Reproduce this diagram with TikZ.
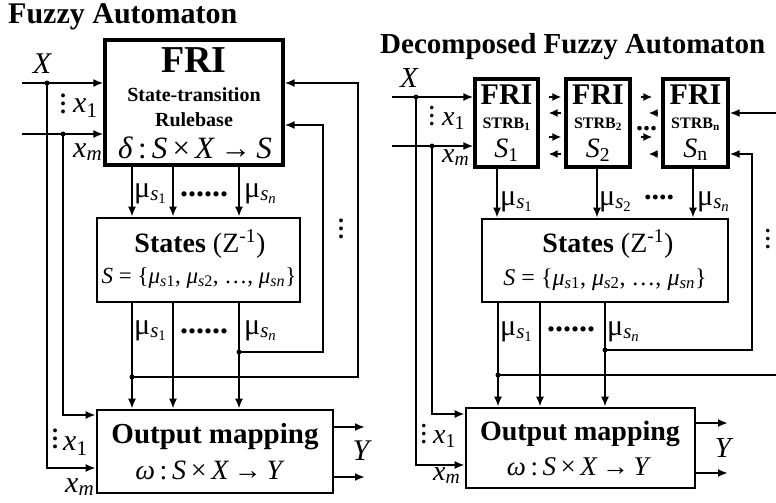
\documentclass[tikz,border=0pt]{standalone}
\usepackage{fontspec}
\setmainfont{Liberation Serif}
\usetikzlibrary{arrows.meta,positioning}

\newcommand{\fs}[1]{\fontsize{#1}{#1}\selectfont}
\newcommand{\mus}[1]{μ\textsubscript{\textit{s}\textsubscript{#1}}}
\newcommand{\mui}[1]{\textit{μ}\textsubscript{\textit{s}#1}}
\newcommand{\vdts}{\vbox{\baselineskip=8pt\lineskiplimit=-20pt\hbox{.}\hbox{.}\hbox{.}}}
\newcommand{\xin}[1]{\textit{x}\textsubscript{#1}}

\begin{document}
\begin{tikzpicture}[x=1pt, y=-1pt,
    fribox/.style={draw, line width=3.2pt, inner sep=0pt},
    box/.style={draw, line width=2.6pt, inner sep=0pt},
    arrow/.style={-{Latex[length=10pt,width=8pt]}, line width=2pt},
    sarrow/.style={-{Latex[length=9pt,width=8pt]}, line width=2pt},
    wire/.style={line width=2pt},
    txt/.style={inner sep=0pt, anchor=base},
    lbl/.style={inner sep=0pt, anchor=base west}
]
\useasboundingbox (0,0) rectangle (776,503);

% left automaton
\node[lbl, font=\fs{30}\bfseries] (ttl1) at (8,24) {Fuzzy Automaton};
\node[fribox, minimum width=178pt, minimum height=125pt] (fri) at (194,102.5) {};
\node[box, minimum width=203pt, minimum height=84pt] (st) at (198.5,260) {};
\node[box, minimum width=236pt, minimum height=83pt] (out) at (215,451.5) {};

\node[txt, font=\fs{38}\bfseries] (fria) at (194,72) {FRI};
\node[txt, font=\fs{20}\bfseries] (frib) at (194,101) {State-transition};
\node[txt, font=\fs{20}\bfseries] (fric) at (194,126) {Rulebase};
\node[txt, font=\fs{31}] (frid) at (195,158) {\textit{δ}\,:\,\textit{S}\,×\,\textit{X}\,→\,\textit{S}};
\node[txt, font=\fs{28}] (sta) at (200,252) {\textbf{States} (Z\textsuperscript{-1})};
\node[txt, font=\fs{23}] (stb) at (199,283) {\textit{S} = \{\mui{1}, \mui{2}, …, \mui{\textit{n}}\}};
\node[txt, font=\fs{29}\bfseries] (outa) at (215,443) {Output mapping};
\node[txt, font=\fs{28}] (outb) at (210,479) {\textit{ω}\,:\,\textit{S}\,×\,\textit{X}\,→\,\textit{Y}};

\node[txt, font=\fs{30}\itshape] (lx) at (42,74) {X};
\node[lbl, font=\fs{24}\bfseries] (ld1) at (60,113) {\vdts};
\node[lbl, font=\fs{30}] (lx1) at (73,112) {\xin{1}};
\node[lbl, font=\fs{30}] (lxm) at (73,157) {\xin{\textit{m}}};
\node[lbl, font=\fs{24}\bfseries] (ld2) at (52,448) {\vdts};
\node[lbl, font=\fs{30}] (lx1b) at (63,450) {\xin{1}};
\node[lbl, font=\fs{30}] (lxmb) at (65,492) {\xin{\textit{m}}};
\node[txt, font=\fs{30}\itshape] (ly) at (361,460) {Y};
\node[lbl, font=\fs{24}\bfseries] (ld3) at (338,238) {\vdts};

\node[lbl, font=\fs{30}] (m1) at (134,197) {\mus{1}};
\node[lbl, font=\fs{32}\bfseries] (md) at (180,196) {......};
\node[lbl, font=\fs{30}] (mn) at (244,197) {\mus{\textit{n}}};
\node[lbl, font=\fs{30}] (m1b) at (134,334) {\mus{1}};
\node[lbl, font=\fs{32}\bfseries] (mdb) at (180,333) {......};
\node[lbl, font=\fs{30}] (mnb) at (244,334) {\mus{\textit{n}}};

\coordinate (inx) at (22,83);
\coordinate (inm) at (22,134);
\coordinate (j1) at (47,83);
\coordinate (j2) at (63,134);
\coordinate (j3) at (239,352);
\coordinate (j4) at (132,377);
\coordinate (y1) at (365,427);
\coordinate (y2) at (365,477);

\draw[arrow] (inx) -- (fri.west |- inx);
\draw[arrow] (inm) -- (fri.west |- inm);
\draw[arrow] (j1) |- (out.west |- 0,468);
\draw[arrow] (j2) |- (out.west |- 0,415);
\foreach \x in {132,173,239} {
  \draw[arrow] (fri.south -| \x,0) -- (st.north -| \x,0);
  \draw[arrow] (st.south -| \x,0) -- (out.north -| \x,0);
}
\draw[arrow] (j3) -| (323,125) -- (fri.east |- 0,125);
\draw[arrow] (j4) -| (358,83) -- (fri.east |- 0,83);
\draw[arrow] (out.east |- y1) -- (y1);
\draw[arrow] (out.east |- y2) -- (y2);
\foreach \j in {j1,j2,j3,j4} \fill (\j) circle (2.5);

% decomposed automaton
\node[lbl, font=\fs{29}\bfseries] (ttl2) at (380,54) {Decomposed Fuzzy Automaton};
\node[fribox, minimum width=63pt, minimum height=88pt] (fri1) at (506.5,123) {};
\node[fribox, minimum width=64pt, minimum height=88pt] (fri2) at (598,123) {};
\node[fribox, minimum width=65pt, minimum height=88pt] (frin) at (695.5,123) {};
\node[box, minimum width=246pt, minimum height=83pt] (st2) at (605,260.5) {};
\node[box, minimum width=229pt, minimum height=80pt] (out2) at (580.5,448) {};

\foreach \b/\i in {fri1/1, fri2/2, frin/n} {
  \node[txt, font=\fs{30}\bfseries] (\b-a) at ([yshift=19pt]\b.center) {FRI};
  \node[txt, font=\fs{16}\bfseries] (\b-b) at ([yshift=-5pt]\b.center) {STRB\textsubscript{\i}};
  \node[txt, font=\fs{28}] (\b-c) at ([yshift=-34pt]\b.center) {\textit{S}\textsubscript{\i}};
}
\node[txt, font=\fs{28}] (sta2) at (608,252) {\textbf{States} (Z\textsuperscript{-1})};
\node[txt, font=\fs{24}] (stb2) at (605,285) {\textit{S} = \{\mui{1}, \mui{2}, …, \mui{\textit{n}}\}};
\node[txt, font=\fs{28}\bfseries] (outa2) at (580,440) {Output mapping};
\node[txt, font=\fs{27}] (outb2) at (579,475) {\textit{ω}\,:\,\textit{S}\,×\,\textit{X}\,→\,\textit{Y}};

\node[txt, font=\fs{29}\itshape] (rx) at (409,87) {X};
\node[lbl, font=\fs{22}\bfseries] (rd1) at (429,125) {\vdts};
\node[lbl, font=\fs{28}] (rx1) at (442,125) {\xin{1}};
\node[lbl, font=\fs{28}] (rxm) at (442,162) {\xin{\textit{m}}};
\node[lbl, font=\fs{22}\bfseries] (rd2) at (421,443) {\vdts};
\node[lbl, font=\fs{28}] (rx1b) at (433,443) {\xin{1}};
\node[lbl, font=\fs{28}] (rxmb) at (433,480) {\xin{\textit{m}}};
\node[txt, font=\fs{29}\itshape] (ry) at (723,457) {Y};
\node[lbl, font=\fs{22}\bfseries] (rd3) at (765,248) {\vdts};
\node[lbl, font=\fs{28}\bfseries] (rdf) at (636,130) {...};

\node[lbl, font=\fs{30}] (r1) at (500,205) {\mus{1}};
\node[lbl, font=\fs{30}] (r2) at (599,205) {\mus{2}};
\node[lbl, font=\fs{30}\bfseries] (rdt) at (644,199) {....};
\node[lbl, font=\fs{30}] (rn) at (697,205) {\mus{\textit{n}}};
\node[lbl, font=\fs{30}] (r1b) at (500,335) {\mus{1}};
\node[lbl, font=\fs{32}\bfseries] (rdtb) at (547,331) {......};
\node[lbl, font=\fs{30}] (rnb) at (607,335) {\mus{\textit{n}}};

\coordinate (rinx) at (392,97);
\coordinate (rinm) at (392,146);
\coordinate (k1) at (416,97);
\coordinate (k2) at (432,146);
\coordinate (k3) at (605,350);
\coordinate (k4) at (498,375);
\coordinate (rin) at (776,113);
\coordinate (rout) at (776,375);
\coordinate (ry1) at (728,423);
\coordinate (ry2) at (728,473);

\draw[arrow] (rinx) -- (fri1.west |- rinx);
\draw[arrow] (rinm) -- (fri1.west |- rinm);
\draw[arrow] (k1) |- (out2.west |- 0,465);
\draw[arrow] (k2) |- (out2.west |- 0,414);
\foreach \y in {97,137} {
  \draw[sarrow, shorten <=9pt, shorten >=3pt] (fri1.east |- 0,\y) -- (fri2.west |- 0,\y);
  \draw[sarrow, shorten <=9pt, shorten >=9pt] (fri2.east |- 0,\y) -- (frin.west |- 0,\y);
}
\foreach \y in {113,154} {
  \draw[sarrow, shorten <=3pt, shorten >=9pt] (fri2.west |- 0,\y) -- (fri1.east |- 0,\y);
  \draw[sarrow, shorten <=3pt, shorten >=17pt] (frin.west |- 0,\y) -- (fri2.east |- 0,\y);
}
\draw[arrow] (fri1.south -| 497,0) -- (st2.north -| 497,0);
\draw[arrow] (fri2.south -| 597,0) -- (st2.north -| 597,0);
\draw[arrow] (frin.south -| 693,0) -- (st2.north -| 693,0);
\foreach \x in {498,540,605}
  \draw[arrow] (st2.south -| \x,0) -- (out2.north -| \x,0);
\draw[arrow] (rin) -- (frin.east |- rin);
\draw[arrow] (k3) -| (752,154) -- (frin.east |- 0,154);
\draw[wire] (k4) -- (rout);
\draw[arrow] (out2.east |- ry1) -- (ry1);
\draw[arrow] (out2.east |- ry2) -- (ry2);
\foreach \j in {k1,k2,k3,k4} \fill (\j) circle (2.5);
\end{tikzpicture}
\end{document}
